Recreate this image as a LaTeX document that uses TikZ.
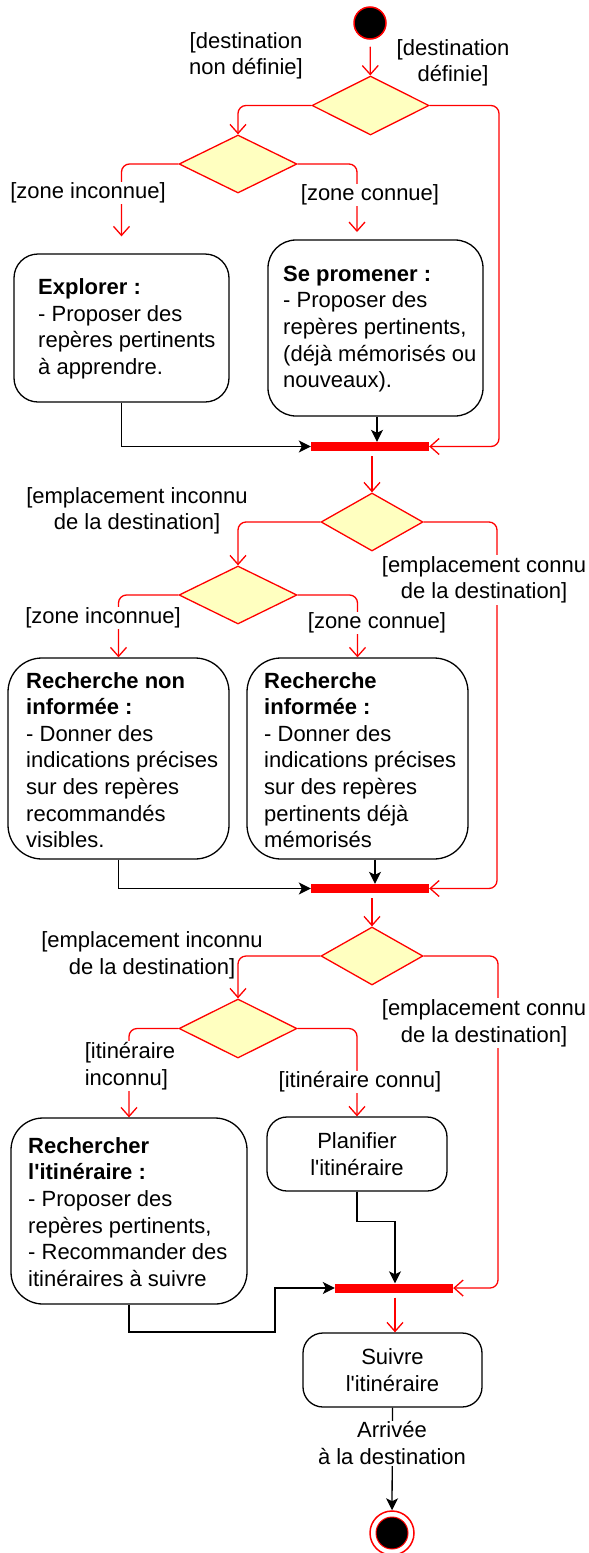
\documentclass[tikz,border=0pt]{standalone}
\usepackage{fontspec}
\setmainfont{Liberation Sans}[Ligatures=TeXOff]
\usetikzlibrary{shapes.geometric,arrows.meta,calc}
\definecolor{dred}{HTML}{FF0000}
\definecolor{dyel}{HTML}{FFFFC0}
\tikzset{
  decision/.style={diamond, draw=dred, fill=dyel, line width=1.3pt, inner sep=0pt},
  redge/.style={draw=dred, line width=1.3pt, rounded corners=8pt, -{Straight Barb[length=9pt,width=16pt,line width=1.3pt]}},
  bedge/.style={draw=black, line width=1.3pt, -{Stealth[length=12pt,width=12pt,inset=3pt]}},
  act/.style={draw=black, line width=1.3pt, rounded corners=#1, inner sep=0pt},
  bar/.style={fill=dred, minimum width=118pt, minimum height=9pt, inner sep=0pt},
  lbl/.style={align=center, inner sep=1pt},
  lblw/.style={lbl, fill=white},
  txt/.style={align=left, anchor=west, inner sep=0pt},
}
\begin{document}
\begin{tikzpicture}[x=1pt,y=-1pt,font=\fontsize{22}{26.6}\selectfont]
\fill[white] (0,0) rectangle (589,1553);
\useasboundingbox (0,0) rectangle (589,1553);

% start / decisions / bars
\node[circle, draw=dred, fill=black, line width=1.5pt, minimum size=32pt, inner sep=0pt] (start) at (370,23) {};
\node[decision, minimum width=117pt, minimum height=59pt] (d1) at (370.5,105.5) {};
\node[decision, minimum width=118pt, minimum height=58pt] (d2) at (238,164) {};
\node[bar] (bar1) at (370,446.5) {};
\node[decision, minimum width=102pt, minimum height=58pt] (d3) at (372,522) {};
\node[decision, minimum width=118pt, minimum height=58pt] (d4) at (238,595) {};
\node[bar] (bar2) at (370,888.5) {};
\node[decision, minimum width=102pt, minimum height=58pt] (d5) at (372,956) {};
\node[decision, minimum width=118pt, minimum height=59pt] (d6) at (238,1028.5) {};
\node[bar] (bar3) at (394,1288) {};

% activity boxes
\node[act=24pt, minimum width=215pt, minimum height=148pt] (explorer) at (121.5,328) {};
\node[act=28pt, minimum width=215pt, minimum height=176pt] (sepro) at (375.5,328) {};
\node[act=34pt, minimum width=221pt, minimum height=201pt] (rni) at (118.5,758.5) {};
\node[act=34pt, minimum width=221pt, minimum height=201pt] (ri) at (357.5,758.5) {};
\node[act=32pt, minimum width=236pt, minimum height=186pt] (ri2) at (129,1211) {};
\node[act=20pt, minimum width=180pt, minimum height=74pt, align=center] (plan) at (357,1154) {Planifier\\l'itinéraire};
\node[act=20pt, minimum width=179pt, minimum height=74pt, align=center] (suivre) at (392.5,1370) {Suivre\\l'itinéraire};
\node[circle, draw=dred, fill=white, line width=1.5pt, minimum size=44pt, inner sep=0pt] (endo) at (392,1533) {};
\node[circle, draw=dred, fill=black, line width=1pt, minimum size=32pt, inner sep=0pt] (endi) at (392,1533) {};

% box texts
\node[txt] (t-explorer) at (38,329) {\textbf{Explorer :}\\- Proposer des\\repères pertinents\\à apprendre.};
\node[txt] (t-sepro) at (283,329) {\textbf{Se promener :}\\- Proposer des\\repères pertinents,\\(déjà mémorisés ou\\nouveaux).};
\node[txt] (t-rni) at (26,760) {\textbf{Recherche non}\\\textbf{informée :}\\- Donner des\\indications précises\\sur des repères\\recommandés\\visibles.};
\node[txt] (t-ri) at (264,760) {\textbf{Recherche}\\\textbf{informée :}\\- Donner des\\indications précises\\sur des repères\\pertinents déjà\\mémorisés};
\node[txt] (t-ri2) at (28,1212) {\textbf{Rechercher}\\\textbf{l'itinéraire :}\\- Proposer des\\repères pertinents,\\- Recommander des\\itinéraires à suivre};

% helper coordinates
\coordinate (c1) at (499,300);
\coordinate (spin) at (357,240);
\coordinate (c3) at (497,700);
\coordinate (c5) at (498,1150);
\coordinate (c6) at (275,1332);

% connectors
\draw[redge, shorten <=7pt] (start) -- (d1);
\draw[redge] (d1.west) -| (d2.north);
\draw[redge] (d1.east) -| (c1) |- (bar1.east);
\draw[redge, shorten >=17pt] (d2.west) -| (explorer.north);
\draw[redge, shorten >=8pt] (d2.east) -| (spin);
\draw[bedge] (explorer.south) |- (bar1.west);
\draw[bedge] ([xshift=1.5pt]sepro.south) -- ([xshift=1.5pt]sepro.south |- bar1.north);
\draw[redge, shorten <=5pt] (bar1.south -| d3.north) -- (d3.north);

\draw[redge] (d3.west) -| (d4.north);
\draw[redge] (d3.east) -| (c3) |- (bar2.east);
\draw[redge] (d4.west) -| (rni.north);
\draw[redge] (d4.east) -| (ri.north);
\draw[bedge] (rni.south) |- (bar2.west);
\draw[bedge] ([xshift=17.5pt]ri.south) -- ([xshift=17.5pt]ri.south |- bar2.north);
\draw[redge, shorten <=5pt] (bar2.south -| d5.north) -- (d5.north);

\draw[redge] (d5.west) -| (d6.north);
\draw[redge] (d5.east) -| (c5) |- (bar3.east);
\draw[redge] (d6.west) -| (ri2.north);
\draw[redge] (d6.east) -| (plan.north);
\draw[bedge] (plan.south) -- ++(0,30) -| ([xshift=1pt]bar3.north);
\draw[bedge] (ri2.south) |- (c6) |- (bar3.west);
\draw[redge, shorten <=5pt] ([xshift=1pt]bar3.south) -- ([xshift=1pt]bar3.south |- suivre.north);
\draw[bedge] (suivre.south) -- (endo.north);

% labels
\node[lbl] (l1) at (246,56) {[destination\\non définie]};
\node[lbl] (l2) at (453,63) {[destination\\définie]};
\node[lblw] (l3) at (88,193) {[zone inconnue]};
\node[lblw] (l4) at (370,195) {[zone connue]};
\node[lbl] (l5) at (137,511) {[emplacement inconnu\\de la destination]};
\node[lblw] (l6) at (484,580) {[emplacement connu\\de la destination]};
\node[lblw] (l7) at (103,618) {[zone inconnue]};
\node[lblw] (l8) at (377,623) {[zone connue]};
\node[lbl] (l9) at (152,955) {[emplacement inconnu\\de la destination]};
\node[lblw] (l10) at (484,1023) {[emplacement connu\\de la destination]};
\node[lblw, align=left] (l11) at (130,1066) {[itinéraire\\inconnu]};
\node[lblw] (l12) at (360,1082) {[itinéraire connu]};
\node[lblw] (l13) at (392,1443) {Arrivée\\à la destination};
\end{tikzpicture}
\end{document}
